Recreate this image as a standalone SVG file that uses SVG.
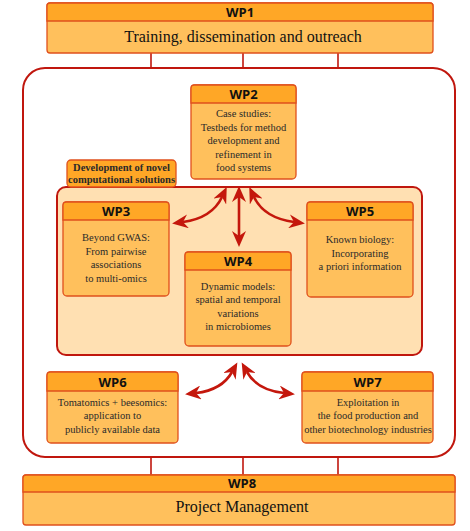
<svg xmlns="http://www.w3.org/2000/svg" width="470" height="531" viewBox="0 0 470 531">
<style>
.hdr{fill:#FFA726;stroke:#E0501C;stroke-width:1.3}
.body{fill:#FFC05C;stroke:#E0501C;stroke-width:1.3}
.ht{font-family:"Open Sans","Noto Sans",sans-serif;font-weight:bold;font-size:13px;fill:#111;text-anchor:middle}
.bt{font-family:"Liberation Serif",serif;font-size:10.5px;fill:#2a2a2a;text-anchor:middle}
.big{font-family:"Liberation Serif",serif;font-size:16px;fill:#111;text-anchor:middle}
.lnk{stroke:#C0170E;stroke-width:1.6;fill:none}
.arr{stroke:#C4170C;stroke-width:2.6;fill:none;marker-start:url(#ah);marker-end:url(#ah)}
</style>
<defs>
<marker id="ah" viewBox="0 0 16 14" refX="5" refY="7" markerWidth="16" markerHeight="14" markerUnits="userSpaceOnUse" orient="auto-start-reverse">
<path d="M0,0 L16,7 L0,14 L5,7 z" fill="#C4170C"/>
</marker>
</defs>
<rect width="470" height="531" fill="#fff"/>
<g id="outer">
<rect x="23" y="68" width="432" height="389" rx="22" fill="#fff" stroke="#C0170E" stroke-width="2"/>
</g>
<g id="connectors">
<line class="lnk" x1="151" y1="53" x2="151" y2="68"/>
<line class="lnk" x1="243" y1="53" x2="243" y2="68"/>
<line class="lnk" x1="338" y1="53" x2="338" y2="68"/>
<line class="lnk" x1="151" y1="457" x2="151" y2="475"/>
<line class="lnk" x1="243" y1="457" x2="243" y2="475"/>
<line class="lnk" x1="338" y1="457" x2="338" y2="475"/>
</g>
<g id="WP1">
<rect class="body" x="47" y="3" width="386" height="50" rx="3"/>
<path class="hdr" d="M50,3 H430 A3,3 0 0 1 433,6 V21 H47 V6 A3,3 0 0 1 50,3 Z"/>
<text class="ht" x="240" y="17">WP1</text>
<text class="big" x="243" y="42">Training, dissemination and outreach</text>
</g>
<g id="inner">
<rect x="57" y="187" width="365" height="168" rx="9" fill="#FFE0B2" stroke="#C0170E" stroke-width="2"/>
</g>
<g id="devlabel">
<rect x="67" y="160" width="109" height="27" rx="4" fill="#FFA726" stroke="#E0501C" stroke-width="1.3"/>
<text class="bt" x="121.5" y="171" font-weight="bold">Development of novel</text>
<text class="bt" x="121.5" y="183" font-weight="bold">computational solutions</text>
</g>
<g id="WP2">
<rect class="body" x="191" y="85" width="105" height="94" rx="4"/>
<path class="hdr" d="M194,85 H293 A3,3 0 0 1 296,88 V103 H191 V88 A3,3 0 0 1 194,85 Z"/>
<text class="ht" x="243.5" y="99">WP2</text>
<text class="bt" x="243.5" y="117">Case studies:</text>
<text class="bt" x="243.5" y="130.5">Testbeds for method</text>
<text class="bt" x="243.5" y="144">development and</text>
<text class="bt" x="243.5" y="157.5">refinement in</text>
<text class="bt" x="243.5" y="171">food systems</text>
</g>
<g id="WP3">
<rect class="body" x="63" y="202" width="106" height="94" rx="4"/>
<path class="hdr" d="M66,202 H166 A3,3 0 0 1 169,205 V220 H63 V205 A3,3 0 0 1 66,202 Z"/>
<text class="ht" x="116" y="216">WP3</text>
<text class="bt" x="116" y="241">Beyond GWAS:</text>
<text class="bt" x="116" y="254.5">From pairwise</text>
<text class="bt" x="116" y="268">associations</text>
<text class="bt" x="116" y="281.5">to multi-omics</text>
</g>
<g id="WP4">
<rect class="body" x="185" y="252" width="106" height="94" rx="4"/>
<path class="hdr" d="M188,252 H288 A3,3 0 0 1 291,255 V270 H185 V255 A3,3 0 0 1 188,252 Z"/>
<text class="ht" x="238" y="266">WP4</text>
<text class="bt" x="238" y="289.5">Dynamic models:</text>
<text class="bt" x="238" y="303">spatial and temporal</text>
<text class="bt" x="238" y="316.5">variations</text>
<text class="bt" x="238" y="330">in microbiomes</text>
</g>
<g id="WP5">
<rect class="body" x="307" y="202" width="106" height="95" rx="4"/>
<path class="hdr" d="M310,202 H410 A3,3 0 0 1 413,205 V220 H307 V205 A3,3 0 0 1 310,202 Z"/>
<text class="ht" x="360" y="216">WP5</text>
<text class="bt" x="360" y="243">Known biology:</text>
<text class="bt" x="360" y="256.5">Incorporating</text>
<text class="bt" x="360" y="270">a priori information</text>
</g>
<g id="WP6">
<rect class="body" x="47" y="372" width="131" height="71" rx="4"/>
<path class="hdr" d="M50,372 H175 A3,3 0 0 1 178,375 V391 H47 V375 A3,3 0 0 1 50,372 Z"/>
<text class="ht" x="112.5" y="386.5">WP6</text>
<text class="bt" x="112.5" y="405.5">Tomatomics + beesomics:</text>
<text class="bt" x="112.5" y="419">application to</text>
<text class="bt" x="112.5" y="432.5">publicly available data</text>
</g>
<g id="WP7">
<rect class="body" x="302" y="372" width="131" height="71" rx="4"/>
<path class="hdr" d="M305,372 H430 A3,3 0 0 1 433,375 V391 H302 V375 A3,3 0 0 1 305,372 Z"/>
<text class="ht" x="367.5" y="386.5">WP7</text>
<text class="bt" x="368" y="405.5">Exploitation in</text>
<text class="bt" x="368" y="419">the food production and</text>
<text class="bt" x="368" y="432.5">other biotechnology industries</text>
</g>
<g id="WP8">
<rect class="body" x="23" y="475" width="432" height="50" rx="3"/>
<path class="hdr" d="M26,475 H452 A3,3 0 0 1 455,478 V492 H23 V478 A3,3 0 0 1 26,475 Z"/>
<text class="ht" x="242" y="488">WP8</text>
<text class="big" x="242" y="512">Project Management</text>
</g>
<g id="arrows">
<path class="arr" d="M222,197 Q212,218 183,222"/>
<path class="arr" d="M239,197 L239,236"/>
<path class="arr" d="M254,197 Q264,218 294,222"/>
<path class="arr" d="M232,372 Q222,390 196,393"/>
<path class="arr" d="M247,372 Q257,390 284,393"/>
</g>
</svg>
